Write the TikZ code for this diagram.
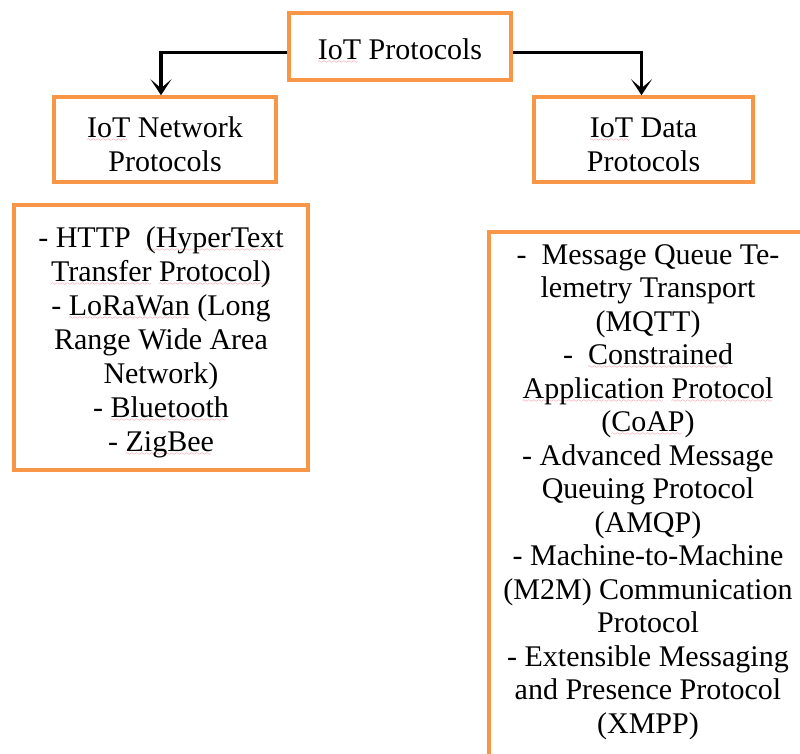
\documentclass[tikz,border=0pt]{standalone}
\usepackage{fontspec}
\setmainfont{Liberation Serif}
\usetikzlibrary{arrows.meta}
\definecolor{boxorange}{HTML}{F79646}
\definecolor{squig}{HTML}{E8506E}
\font\sqfont=lasy6
\newcommand\sqw[1]{\setbox0\hbox{#1}\rlap{\lower4pt\hbox to\wd0{\color{squig}\leaders\hbox{\sqfont\char58}\hfill}}\box0\relax}
\newcommand\tstrut{\rule{0pt}{30pt}}
\tikzset{
	protobox/.style={draw=boxorange, line width=3.6pt, inner sep=0pt, align=center, font=\fontsize{30}{34}\selectfont},
	conn/.style={line width=3.6pt, -{Stealth[length=16pt,width=21pt,inset=9pt]}},
}
\begin{document}
\begin{tikzpicture}[x=1pt,y=-1pt]
			\useasboundingbox (0,0) rectangle (800,753);
			\clip (0,0) rectangle (800,753);
			\draw (400,46.5) node[protobox, minimum width=222pt, minimum height=67pt] (top) {\tstrut\sqw{IoT} Protocols};
			\draw (165,139.5) node[protobox, minimum width=222pt, minimum height=85pt] (nbox) {\tstrut\sqw{IoT} Network\\Protocols};
			\draw (643.5,139.5) node[protobox, minimum width=219pt, minimum height=85pt] (dbox) {\tstrut\sqw{IoT} Data\\Protocols};
			\draw (161,337.5) node[protobox, minimum width=294pt, minimum height=265pt] (nlist) {\tstrut- HTTP~ \sqw{(HyperText}\\\sqw{Transfer} \sqw{Protocol)}\\- \sqw{LoRaWan} (Long\\Range Wide Area\\Network)\\- \sqw{Bluetooth}\\- \sqw{ZigBee}};
			% list box runs off the page on the right and at the bottom
			\draw (487,230) node[protobox, anchor=north west, minimum width=340pt, minimum height=560pt] (dlistbox) {};
			\draw (648,492) node[align=center, inner sep=0pt, font=\fontsize{30}{33.5}\selectfont] (dlist) {-~ Message Queue Te-\\lemetry Transport\\(MQTT)\\-~ \sqw{Constrained}\\\sqw{Application} \sqw{Protocol}\\(\sqw{CoAP})\\- Advanced Message\\Queuing Protocol\\(AMQP)\\- Machine-to-Machine\\(M2M) Communication\\Protocol\\- Extensible Messaging\\and Presence Protocol\\(XMPP)};
			\draw[conn] ([yshift=-6pt]top.west) -| ([xshift=-4pt]nbox.north);
			\draw[conn] ([yshift=-6pt]top.east) -| ([xshift=-2pt]dbox.north);
		\end{tikzpicture}
\end{document}
